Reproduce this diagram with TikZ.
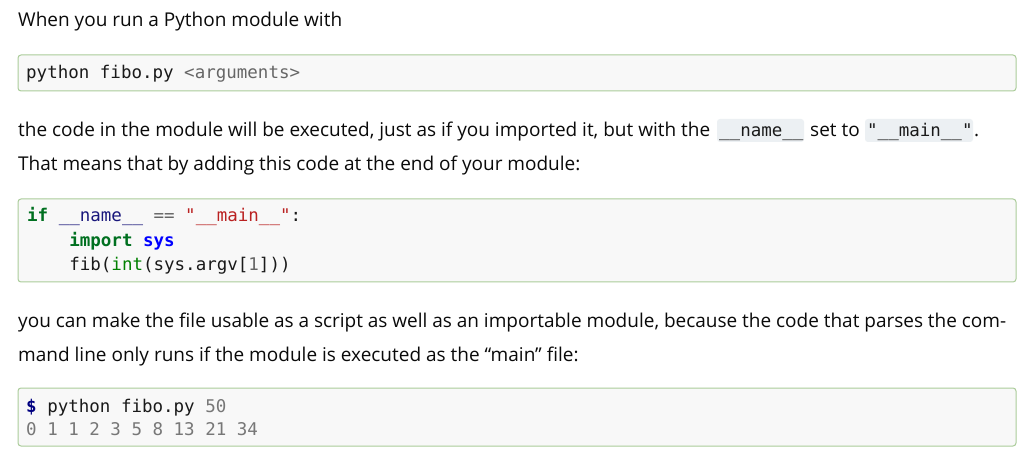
\documentclass[tikz,border=0pt]{standalone}
\usepackage{fontspec}
\setmainfont{Open Sans}
\setmonofont{DejaVu Sans Mono}
\definecolor{textc}{HTML}{0A0A0A}
\definecolor{codec}{HTML}{1A1A1A}
\definecolor{prebg}{HTML}{F8F8F8}
\definecolor{preborder}{HTML}{AACC99}
\definecolor{icodebg}{HTML}{ECF0F3}
\definecolor{kwgreen}{HTML}{007020}
\definecolor{bigreen}{HTML}{008000}
\definecolor{pseudo}{HTML}{19177C}
\definecolor{opgray}{HTML}{666666}
\definecolor{strred}{HTML}{BA2121}
\definecolor{nsblue}{HTML}{0000FF}
\definecolor{prompt}{HTML}{000080}
\definecolor{outgray}{HTML}{777777}
\begin{document}
\begin{tikzpicture}[x=1pt,y=-1pt,
  txt/.style={anchor=base west, inner sep=0pt, font=\fontsize{19}{23}\selectfont, text=textc},
  code/.style={anchor=base west, inner sep=0pt, font=\fontsize{17.5}{22}\selectfont\ttfamily, text=codec},
  pre/.style={draw=preborder, fill=prebg, rounded corners=3pt, line width=1pt},
  icode/.style={fill=icodebg, rounded corners=3pt}]
\useasboundingbox[fill=white] (0,0) rectangle (1031,454);
% paragraph 1
\node[txt] (p1) at (18,27) {When you run a Python module with};
% block 1
\draw[pre] (18,55) rectangle (1016,91);
\node[code] (b1) at (26,79) {python fibo.py \textcolor{opgray}{<arguments>}};
% paragraph 2
\node[txt] (p2a) at (18,137) {the code in the module will be executed, just as if you imported it, but with the};
\fill[icode] (717,119) rectangle (804,142);
\node[code] (c1) at (719,137) {\_\_name\_\_};
\node[txt] (p2b) at (810,137) {set to};
\fill[icode] (865,119) rectangle (973,142);
\node[code] (c2) at (867,137) {"\_\_main\_\_"};
\node[txt] (p2c) at (974,137) {.};
\node[txt] (p3) at (18,171) {That means that by adding this code at the end of your module:};
% block 2
\draw[pre] (18,199) rectangle (1016,282);
\node[code] (k1) at (27,222) {\textcolor{kwgreen}{\bfseries if} \textcolor{pseudo}{\_\_name\_\_} \textcolor{opgray}{==} \textcolor{strred}{"\_\_main\_\_"}:};
\node[code] (k2) at (27,246.5) {\phantom{xxxx}\textcolor{kwgreen}{\bfseries import} \textcolor{nsblue}{\bfseries sys}};
\node[code] (k3) at (27,271) {\phantom{xxxx}fib(\textcolor{bigreen}{int}(sys.argv[\textcolor{opgray}{1}]))};
% paragraph 3
\node[txt] (p4) at (18,327) {\makebox[988pt][s]{you can make the file usable as a script as well as an importable module, because the code that parses the com-}};
\node[txt] (p5) at (18,361) {mand line only runs if the module is executed as the “main” file:};
% block 3
\draw[pre] (18,388) rectangle (1016,446);
\node[code] (s1) at (26,412) {\textcolor{prompt}{\bfseries\$} python fibo.py \textcolor{outgray}{50}};
\node[code] (s2) at (26,435) {\textcolor{outgray}{0 1 1 2 3 5 8 13 21 34}};
\end{tikzpicture}
\end{document}
